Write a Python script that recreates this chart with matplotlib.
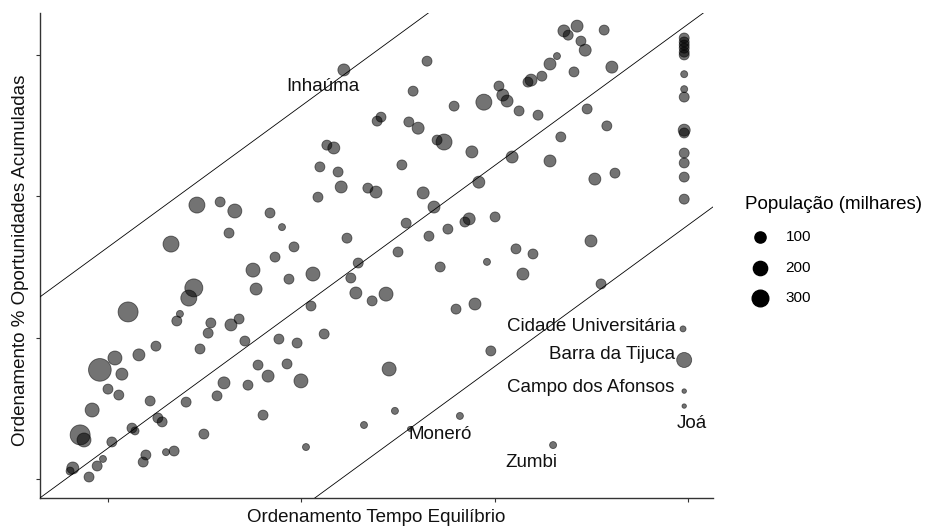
import numpy as np
import matplotlib
matplotlib.use("Agg")
import matplotlib.pyplot as plt

plt.rcParams['font.family'] = ['Liberation Sans', 'DejaVu Sans']

# Ranks of each bairro: equilibrium time (x) and accumulated opportunities (y)
tempo_rank = [
    111.0, 132.5, 128.9, 147.2, 139.5, 120.6, 119.6, 127.8, 130.2, 135.1,
    136.9, 106.6, 108.4, 144.1, 104.8, 109.5, 126.0, 110.3, 117.2, 119.3,
    131.5, 145.9, 104.3, 134.3, 91.9, 95.0, 127.1, 143.4, 142.3, 150.1,
    98.1, 111.8, 125.0, 133.0, 137.9, 73.0, 79.0, 82.8, 81.3, 66.3,
    151.1, 152.1, 153.2, 156.3, 161.2, 158.6, 159.4, 162.2, 164.3, 166.1,
    167.9, 169.0, 171.3, 172.3, 173.4, 178.3, 170.5, 180.3, 173.9, 179.0,
    167.1, 154.5, 164.3, 175.9, 181.1, 155.5, 159.9, 174.9,
    199.0, 199.0, 199.0, 199.0, 199.0, 199.0, 199.0, 199.0, 199.0, 199.0,
    199.0, 199.0, 199.0, 199.0, 199.0,
    87.5, 88.3, 72.2, 70.9, 55.2, 68.6, 67.8, 76.6, 75.9, 81.8,
    83.9, 85.4, 73.8, 62.4, 58.0, 51.8, 47.9, 53.6, 50.0, 52.8,
    60.9, 70.2, 78.2, 80.0, 86.2, 88.8, 91.4, 45.9, 56.2, 57.0,
    62.9, 64.0, 74.8, 90.1, 42.8, 43.8, 51.0, 48.7, 47.2, 59.8,
    59.1, 65.0, 67.1, 40.9, 40.2, 45.1,
    93.2, 96.8, 103.0, 114.7, 112.8, 135.9, 148.0, 114.1, 118.3, 121.9,
    102.5, 140.0, 144.9, 105.9, 94.2, 98.9, 149.0, 96.3, 99.9, 122.7,
    124.2, 141.0, 116.2, 101.2, 157.3, 177.5, 198.7, 199.0, 199.0, 199.0,
    165.1, 128.1,
]
oport_rank = [
    144.7, 147.8, 137.2, 133.3, 131.9, 128.0, 126.6, 126.3, 124.1, 119.9,
    119.2, 118.1, 117.1, 115.7, 110.4, 108.6, 111.1, 103.3, 102.9, 101.5,
    101.2, 105.0, 99.7, 96.2, 94.1, 89.1, 90.5, 92.0, 90.9, 92.7,
    82.1, 85.2, 80.3, 85.9, 88.4, 96.9, 98.0, 94.8, 87.0, 83.1,
    139.0, 135.8, 133.7, 130.2, 128.7, 140.4, 141.1, 142.5, 146.8, 149.6,
    158.5, 157.0, 160.2, 154.9, 151.7, 158.8, 144.0, 145.7, 130.9, 124.9,
    121.0, 113.9, 112.5, 106.1, 108.2, 81.4, 79.6, 84.2,
    156.0, 154.6, 153.5, 152.4, 151.0, 150.0, 143.2, 137.9, 135.1, 123.4,
    122.4, 115.3, 111.8, 106.8, 99.0,
    73.9, 67.2, 67.6, 64.0, 59.1, 58.4, 55.9, 55.2, 51.6, 54.5,
    56.6, 48.8, 46.0, 47.0, 43.9, 42.8, 38.6, 37.1, 31.8, 29.7,
    27.6, 27.2, 29.4, 34.0, 33.2, 40.3, 36.4, 24.4, 18.0, 17.0,
    21.6, 20.2, 15.9, 22.6, 15.6, 13.8, 13.1, 7.1, 4.6, 8.5,
    6.0, 9.5, 9.9, 3.9, 2.8, 0.7,
    78.5, 70.7, 72.5, 76.4, 71.1, 75.0, 76.8, 65.8, 63.0, 65.4,
    61.2, 60.1, 61.9, 51.3, 49.5, 48.1, 45.3, 40.7, 34.7, 38.9,
    24.1, 22.3, 19.1, 11.3, 72.5, 69.0, 53.1, 42.1, 31.1, 25.8,
    12.0, 17.7,
]
# population in thousands
populacao = [
    123, 70, 70, 272, 70, 70, 70, 70, 123, 70,
    272, 70, 123, 123, 70, 70, 70, 123, 70, 123,
    123, 123, 70, 123, 70, 19, 70, 123, 70, 70,
    70, 70, 70, 70, 70, 272, 70, 190, 70, 272,
    70, 123, 123, 70, 70, 70, 123, 70, 123, 19,
    123, 70, 123, 70, 123, 70, 70, 123, 70, 70,
    70, 123, 123, 123, 70, 70, 70, 123,
    70, 70, 70, 70, 70, 70, 19, 19, 70, 123,
    70, 70, 70, 70, 70,
    190, 123, 368, 272, 478, 19, 70, 70, 70, 123,
    70, 70, 70, 70, 123, 190, 650, 123, 70, 70,
    70, 70, 70, 123, 70, 70, 123, 190, 70, 32,
    70, 70, 70, 70, 478, 190, 70, 19, 70, 70,
    70, 19, 70, 123, 32, 70,
    70, 70, 190, 70, 70, 70, 19, 123, 70, 190,
    70, 70, 123, 70, 70, 70, 70, 70, 190, 190,
    19, 19, 19, 19, 123, 70, 9, 229, 1.0, 0.8,
    19, 3,
]

x_ticks = [50, 100, 150, 200]
y_ticks = [0, 50, 100, 150]
line_intercept = -39.1
line_offsets = [71.1, 0.0, -71.1]
legend_pops = [100, 200, 300]

bairro_labels = [
    ("Inhaúma", 105.6, 138.7, "center"),
    ("Cidade Universitária", 196.9, 53.8, "right"),
    ("Barra da Tijuca", 196.6, 43.9, "right"),
    ("Campo dos Afonsos", 196.4, 32.5, "right"),
    ("Joá", 201.0, 19.5, "center"),
    ("Zumbi", 159.4, 6.0, "center"),
    ("Moneró", 135.9, 15.6, "center"),
]


def point_size(p):
    # ggplot-like area scale: 1..6 mm diameter
    d_px = 3.78 * (1 + 5 * np.sqrt(np.asarray(p, dtype=float) / max(populacao)))
    return (d_px * 72 / 100) ** 2


fig = plt.figure(figsize=(9.28, 5.28), dpi=100)
ax = fig.add_axes([40 / 928, 30 / 528, 673 / 928, 485 / 528])

ax.scatter(tempo_rank, oport_rank, s=point_size(populacao), c='black',
           alpha=0.55, edgecolors='black', linewidths=0.6, zorder=2)

for off in line_offsets:
    ax.axline((0, line_intercept + off), slope=1, color='black', lw=0.6, zorder=3)

for name, lx, ly, ha in bairro_labels:
    ax.text(lx, ly, name, ha=ha, va='center', fontsize=13.5, color='#111111', zorder=4)

ax.set_xlim(32.42, 206.45)
ax.set_ylim(-6.72, 164.84)
ax.set_xticks(x_ticks, labels=[])
ax.set_yticks(y_ticks, labels=[])
ax.tick_params(direction='out', length=3.2, width=0.8, color='#333333')
for side in ['top', 'right']:
    ax.spines[side].set_visible(False)
for side in ['left', 'bottom']:
    ax.spines[side].set_color('#333333')
    ax.spines[side].set_linewidth(1.0)

ax.set_xlabel("Ordenamento Tempo Equilíbrio", fontsize=13.5, color='#111111')
ax.xaxis.label.set_va('center')
ax.xaxis.set_label_coords(0.5, -0.041)
ax.set_ylabel("Ordenamento % Oportunidades Acumuladas", fontsize=13.5, color='#111111')
ax.yaxis.label.set_va('center')
ax.yaxis.set_label_coords(-0.0290, 0.49)

handles = [ax.scatter([], [], s=point_size(p), color='black') for p in legend_pops]
fig.legend(handles, [str(p) for p in legend_pops], title='População (milhares)',
           loc='upper left', bbox_to_anchor=(745 / 928, 1 - 196 / 528),
           frameon=False, fontsize=11, title_fontsize=13.5, alignment='left',
           labelspacing=1.1, handletextpad=0.75, handlelength=1.9,
           borderpad=0, borderaxespad=0)

fig.savefig('out.png', dpi=100)
